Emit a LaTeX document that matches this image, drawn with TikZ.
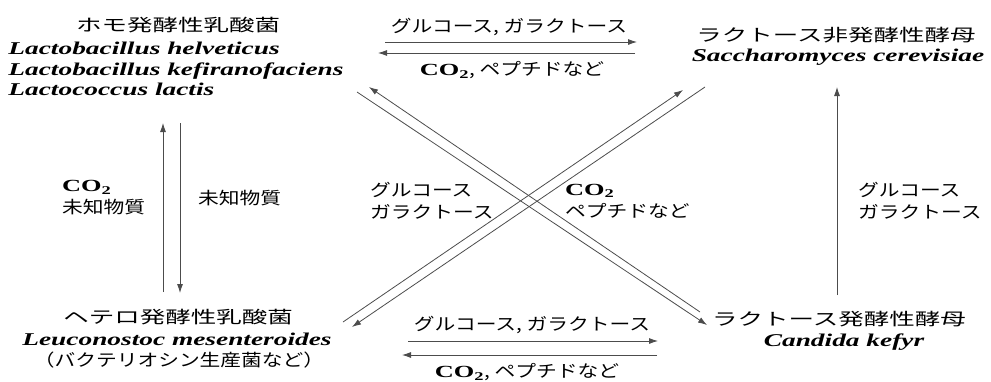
\documentclass[tikz,border=0pt]{standalone}
\usepackage{fontspec}
\newfontfamily\jpt[FakeStretch=1.5]{Noto Sans CJK JP}
\newfontfamily\jpl[FakeStretch=1.22]{Noto Sans CJK JP}
\newfontfamily\lat[FakeStretch=1.52]{Liberation Serif}
\newfontfamily\ser[FakeStretch=1.55]{Liberation Serif}
\newcommand{\cotwo}{{\ser\bfseries CO\textsubscript{2}}}
\usetikzlibrary{positioning,arrows.meta}

\begin{document}
\begin{tikzpicture}[x=1pt, y=-1pt,
            ttl/.style={font=\jpt\fontsize{17}{20}\selectfont, inner sep=0pt},
            sp/.style={font=\lat\bfseries\itshape\fontsize{18}{20.5}\selectfont, inner sep=0pt, align=left},
            lbl/.style={font=\jpl\fontsize{17}{22}\selectfont, inner sep=0pt, align=left},
            flow/.style={-{Latex[length=9pt,width=6pt]}, line width=0.8pt, draw=black!70}
        ]
        \useasboundingbox (0,0) rectangle (991,381);
        % organisms
        \node[ttl] (homo)   at (178,25)  {ホモ発酵性乳酸菌};
        \node[sp]  (homosp) at (176,69)  {Lactobacillus helveticus\\Lactobacillus kefiranofaciens\\Lactococcus lactis};
        \node[ttl] (nonlac)   at (836,35) {ラクトース非発酵性酵母};
        \node[sp]  (nonlacsp) at (838,57) {Saccharomyces cerevisiae};
        \node[ttl] (hetero)     at (178,317) {ヘテロ発酵性乳酸菌};
        \node[sp]  (heterosp)   at (177,339) {Leuconostoc mesenteroides};
        \node[lbl] (heteronote) at (179,360) {（バクテリオシン生産菌など）};
        \node[ttl] (lac)   at (839,319) {ラクトース発酵性酵母};
        \node[sp]  (lacsp) at (844,342) {Candida kefyr};

        % arrow ends
        \coordinate (t1) at (385,42);  \coordinate (t2) at (637,42);
        \coordinate (t3) at (635,53);  \coordinate (t4) at (378,53);
        \coordinate (b1) at (408,341); \coordinate (b2) at (658,341);
        \coordinate (b3) at (657,355); \coordinate (b4) at (402,355);
        \coordinate (l1) at (163,292); \coordinate (l2) at (163,123);
        \coordinate (l3) at (180,123); \coordinate (l4) at (180,293);
        \coordinate (r1) at (837,295); \coordinate (r2) at (837,87);
        \coordinate (da1) at (700,312); \coordinate (da2) at (369,87);
        \coordinate (db1) at (357,92);  \coordinate (db2) at (707,325);
        \coordinate (dc1) at (343,322); \coordinate (dc2) at (683,90);
        \coordinate (dd1) at (705,87);  \coordinate (dd2) at (352,327);

        \draw[flow] (t1) -- (t2);
        \draw[flow] (t3) -- (t4);
        \draw[flow] (b1) -- (b2);
        \draw[flow] (b3) -- (b4);
        \draw[flow] (l1) -- (l2);
        \draw[flow] (l3) -- (l4);
        \draw[flow] (r1) -- (r2);
        \draw[flow] (da1) -- (da2);
        \draw[flow] (db1) -- (db2);
        \draw[flow] (dc1) -- (dc2);
        \draw[flow] (dd1) -- (dd2);

        % labels
        \node[lbl] (toplbl)  at (509,27)  {グルコース, ガラクトース};
        \node[lbl] (topback) at (512,70)  {\cotwo, ペプチドなど};
        \node[lbl] (botlbl)  at (532,325) {グルコース, ガラクトース};
        \node[lbl] (botback) at (527,372) {\cotwo, ペプチドなど};
        \node[lbl, anchor=west] (leftup)   at (62,198)  {\cotwo\\未知物質};
        \node[lbl, anchor=west] (leftdown) at (198,198) {未知物質};
        \node[lbl, anchor=west] (crossl)   at (370,201) {グルコース\\ガラクトース};
        \node[lbl, anchor=west] (crossr)   at (565,201) {\cotwo\\ペプチドなど};
        \node[lbl, anchor=west] (rightup)  at (858,201) {グルコース\\ガラクトース};
    \end{tikzpicture}
\end{document}
